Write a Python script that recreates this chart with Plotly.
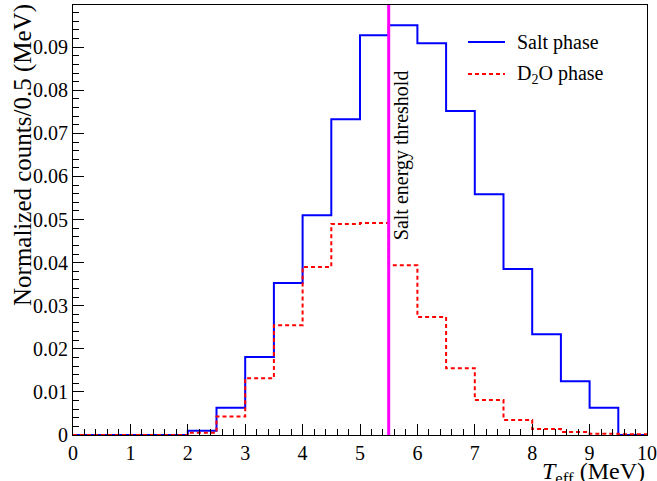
import plotly.graph_objects as go

bin_edges = [0, 0.5, 1, 1.5, 2, 2.5, 3, 3.5, 4, 4.5, 5, 5.5, 6, 6.5, 7, 7.5, 8, 8.5, 9, 9.5, 10]
salt_phase = [0, 0, 0, 0, 0.0010, 0.0063, 0.0181, 0.0353, 0.0510, 0.0733, 0.0928,
              0.0951, 0.0909, 0.0752, 0.0559, 0.0385, 0.0234, 0.0125, 0.0063, 0]
d2o_phase = [0, 0, 0, 0, 0.0005, 0.0043, 0.0132, 0.0255, 0.0390, 0.0490, 0.0492,
             0.0394, 0.0274, 0.0155, 0.0081, 0.0035, 0.0014, 0.0007, 0.0003, 0.0002]
threshold = 5.5
x_ticks = list(range(0, 11))
y_ticks = [0, 0.01, 0.02, 0.03, 0.04, 0.05, 0.06, 0.07, 0.08, 0.09]
y_tick_labels = ["0", "0.01", "0.02", "0.03", "0.04", "0.05", "0.06", "0.07", "0.08", "0.09"]
legend_names = ["Salt phase", "D<sub>2</sub>O phase"]

FONT = "Liberation Serif"
W, H = 657, 481
ML, MR, MT, MB = 73, 10, 5, 46
PW, PH = W - ML - MR, H - MT - MB


def px_to_paper(x, y):
    return (x - ML) / PW, (H - MB - y) / PH


fig = go.Figure()
fig.add_trace(go.Scatter(x=bin_edges, y=salt_phase + [salt_phase[-1]], mode="lines",
                         line=dict(shape="hv", color="#0000ff", width=2),
                         name=legend_names[0], showlegend=False))
fig.add_trace(go.Scatter(x=bin_edges, y=d2o_phase + [d2o_phase[-1]], mode="lines",
                         line=dict(shape="hv", color="#ff0000", width=2, dash="4px,3px"),
                         name=legend_names[1], showlegend=False))

fig.add_shape(type="line", x0=threshold, x1=threshold, y0=0, y1=1, yref="paper",
              line=dict(color="#ff00ff", width=3))
fig.add_annotation(x=threshold, y=px_to_paper(0, 242)[1], xref="x", yref="paper",
                   text="Salt energy threshold",
                   textangle=-90, showarrow=False, xanchor="left", yanchor="bottom",
                   xshift=0, font=dict(family=FONT, size=20, color="black"))

# legend drawn manually
legend_rows = [(42, dict(color="#0000ff", width=2)),
               (74, dict(color="#ff0000", width=2, dash="4px,3px"))]
for (ypx, style), name in zip(legend_rows, legend_names):
    x0, yp = px_to_paper(468, ypx)
    x1, _ = px_to_paper(505, ypx)
    fig.add_shape(type="line", xref="paper", yref="paper", x0=x0, x1=x1, y0=yp, y1=yp, line=style)
    tx, _ = px_to_paper(515, ypx)
    fig.add_annotation(x=tx, y=yp, xref="paper", yref="paper", text=name, showarrow=False,
                       xanchor="left", yanchor="middle", font=dict(family=FONT, size=20, color="black"))

fig.add_annotation(x=1, y=0, xref="paper", yref="paper", yshift=-21,
                   text="<i>T</i><sub>eff</sub> (MeV)", showarrow=False,
                   xanchor="right", yanchor="top", font=dict(family=FONT, size=24, color="black"))

# y-axis title, top-aligned like the reference
yt_x, yt_y = px_to_paper(7, 2)
fig.add_annotation(x=yt_x, y=yt_y, xref="paper", yref="paper", text="Normalized counts/0.5 (MeV)",
                   textangle=-90, showarrow=False, xanchor="left", yanchor="top",
                   font=dict(family=FONT, size=25, color="black"))

axis_common = dict(showgrid=False, zeroline=False, showline=True, linecolor="black", linewidth=1,
                   mirror=True, ticks="inside", tickcolor="black", automargin=False,
                   tickfont=dict(family=FONT, size=20, color="black"))

fig.update_xaxes(range=[0, 10], tickvals=x_ticks, ticklen=11,
                 minor=dict(dtick=0.2, ticklen=6, ticks="inside", tickcolor="black"),
                 **axis_common)
fig.update_yaxes(range=[0, 0.0998], tickvals=y_ticks, ticktext=y_tick_labels, ticklen=11,
                 minor=dict(dtick=0.002, ticklen=6, ticks="inside", tickcolor="black"),
                 **axis_common)

fig.update_layout(
    width=W, height=H,
    margin=dict(l=ML, r=MR, t=MT, b=MB),
    plot_bgcolor="white", paper_bgcolor="white",
    font=dict(family=FONT, color="black"),
    showlegend=False,
)

fig.write_html("out.html", config={"displayModeBar": False},
               post_script="document.body.style.margin='0';document.body.style.overflow='hidden';")
